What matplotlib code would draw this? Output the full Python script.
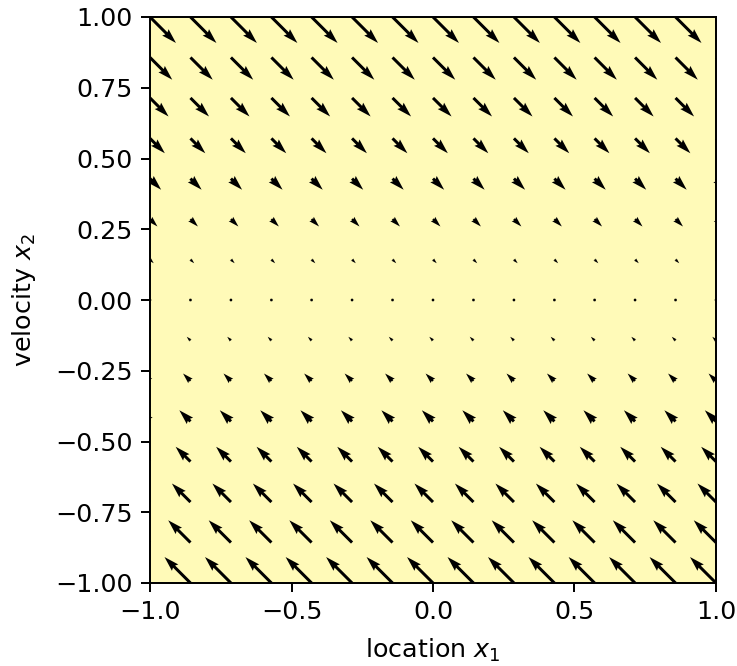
import matplotlib
matplotlib.use("Agg")
import matplotlib.pyplot as plt
import numpy as np

# grid of sample points (15 x 15)
x1_grid = [-1.0, -0.857, -0.714, -0.571, -0.429, -0.286, -0.143, 0.0,
           0.143, 0.286, 0.429, 0.571, 0.714, 0.857, 1.0]
x2_grid = [-1.0, -0.857, -0.714, -0.571, -0.429, -0.286, -0.143, 0.0,
           0.143, 0.286, 0.429, 0.571, 0.714, 0.857, 1.0]

# arrow components per row (same for every column)
u_row = [-1.0, -0.857, -0.714, -0.571, -0.429, -0.286, -0.143, 0.0,
         0.143, 0.286, 0.429, 0.571, 0.714, 0.857, 1.0]
v_row = [1.0, 0.857, 0.714, 0.571, 0.429, 0.286, 0.143, 0.0,
         -0.143, -0.286, -0.429, -0.571, -0.714, -0.857, -1.0]

X1, X2 = np.meshgrid(x1_grid, x2_grid)
U = np.tile(np.array(u_row)[:, None], (1, len(x1_grid)))
V = np.tile(np.array(v_row)[:, None], (1, len(x1_grid)))

fig = plt.figure(figsize=(737 / 177, 666 / 177), dpi=177)
ax = fig.add_axes([150 / 737, 83 / 666, 566 / 737, 566 / 666])
ax.set_facecolor("#fffab8")

ax.quiver(X1, X2, U, V, angles="xy", scale_units="xy", scale=10.9,
          width=0.0053)

ax.set_xlim(-1, 1)
ax.set_ylim(-1, 1)
ax.set_xticks([-1.0, -0.5, 0.0, 0.5, 1.0])
ax.set_yticks([-1.0, -0.75, -0.5, -0.25, 0.0, 0.25, 0.5, 0.75, 1.0])
ax.tick_params(labelsize=10.3)
ax.set_xlabel("location $x_1$", fontsize=10.3, labelpad=5)
ax.set_ylabel("velocity $x_2$", fontsize=10.3, labelpad=7)

fig.savefig("out.png", dpi=177)
plt.close()
